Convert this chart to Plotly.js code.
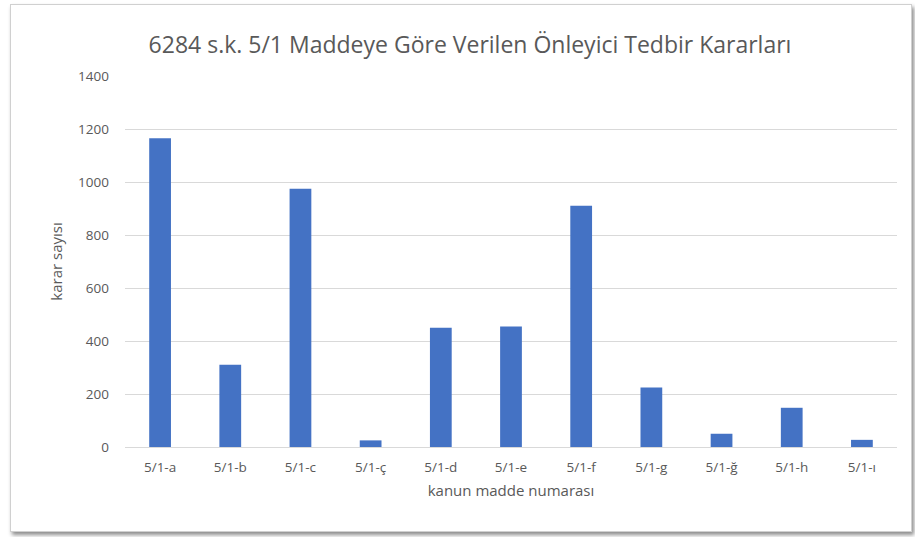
<!DOCTYPE html>
<html><head><meta charset="utf-8">
<script src="https://cdn.plot.ly/plotly-3.0.1.min.js"></script>
<style>
html,body{margin:0;padding:0;background:#fff;width:915px;height:537px;overflow:hidden;}
#frame{position:absolute;left:10px;top:4px;width:900px;height:526px;border:1px solid #d0d0d0;box-shadow:2px 3px 4px rgba(0,0,0,0.45);background:#fff;}
#chart{width:900px;height:526px;}
</style></head>
<body>
<div id="frame"><div id="chart"></div></div>
<script>
const categories = ['5/1-a','5/1-b','5/1-c','5/1-ç','5/1-d','5/1-e','5/1-f','5/1-g','5/1-ğ','5/1-h','5/1-ı'];
const values = [1165, 310, 975, 25, 450, 455, 910, 225, 50, 148, 27];
const yTicks = [0, 200, 400, 600, 800, 1000, 1200, 1400];
const titleText = '6284 s.k. 5/1 Maddeye Göre Verilen Önleyici Tedbir Kararları';
const xTitle = 'kanun madde numarası';
const yTitle = 'karar sayısı';

const fontFam = '"Open Sans", "Noto Sans", sans-serif';
Plotly.newPlot('chart', [{
  type: 'bar', x: categories, y: values,
  marker: {color: '#4472C4', line: {width: 0}},
  width: 0.31, hoverinfo: 'x+y'
}], {
  width: 900, height: 526,
  margin: {l: 114, r: 14, t: 71, b: 84},
  paper_bgcolor: '#fff', plot_bgcolor: '#fff',
  font: {family: fontFam, color: '#595959', size: 13},
  title: {text: titleText, font: {size: 23, color: '#595959', family: fontFam}, x: 0.51, xanchor: 'center', y: 0.925, yanchor: 'middle'},
  xaxis: {
    title: {text: xTitle, font: {size: 15, color: '#595959'}, standoff: 10},
    tickfont: {size: 13.5, color: '#595959'}, showgrid: false, showline: false, ticks: '', ticklabelstandoff: 10
  },
  yaxis: {
    range: [0, 1400], tickvals: yTicks, ticktext: yTicks.map(String),
    title: {text: yTitle, font: {size: 15, color: '#595959'}, standoff: 11},
    tickfont: {size: 13.5, color: '#595959'},
    gridcolor: '#d9d9d9', gridwidth: 1, zeroline: true, zerolinecolor: '#d9d9d9', zerolinewidth: 1,
    showline: false, ticks: '', ticklabelstandoff: 15
  },
  showlegend: false
}, {displayModeBar: false, staticPlot: true});
</script>
</body></html>
